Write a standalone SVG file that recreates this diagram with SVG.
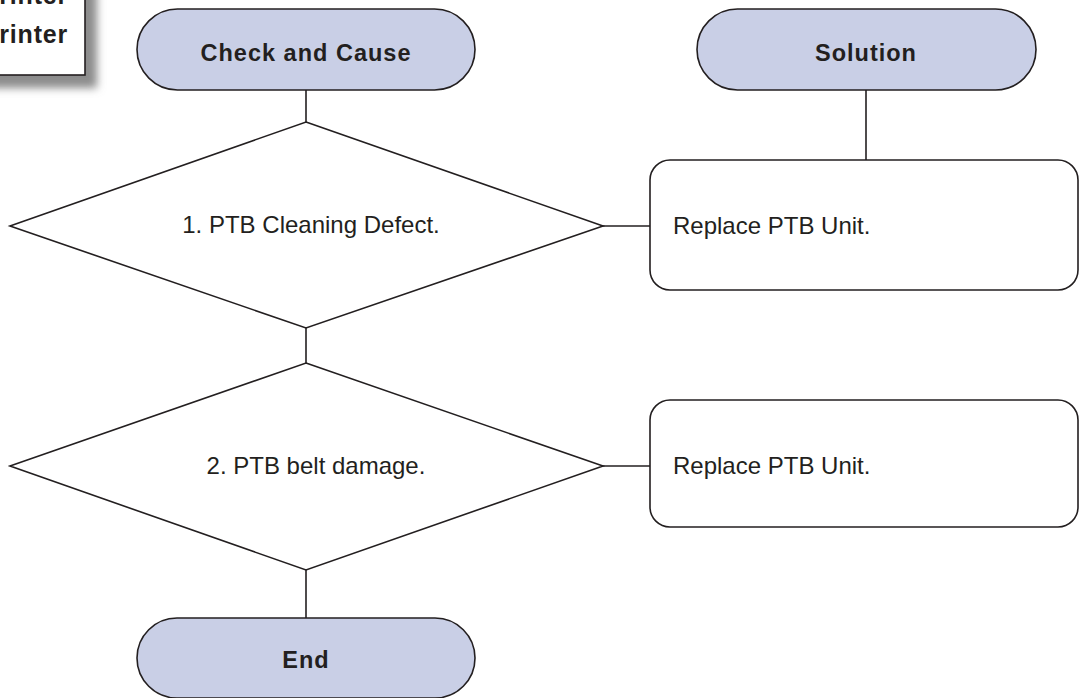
<svg xmlns="http://www.w3.org/2000/svg" width="1079" height="698" viewBox="0 0 1079 698">
<style>
.term{fill:#c9cfe6;stroke:#231f20;stroke-width:1.6}
.shape{fill:#ffffff;stroke:#231f20;stroke-width:1.6}
.conn{stroke:#231f20;stroke-width:1.6;fill:none}
.tb{font-family:"Liberation Sans",Arial,sans-serif;font-weight:bold;font-size:23.5px;fill:#231f20;letter-spacing:1px;text-anchor:middle}
.t{font-family:"Liberation Sans",Arial,sans-serif;font-size:24px;fill:#231f20}
</style>
<defs>
<filter id="sh" x="-30%" y="-30%" width="160%" height="160%"><feGaussianBlur stdDeviation="4.5"/></filter>
</defs>
<rect width="1079" height="698" fill="#ffffff"/>
<g id="header">
<rect x="-20" y="-20" width="117" height="108" fill="#8c8c8c" filter="url(#sh)"/>
<rect x="-5" y="-5" width="90" height="80" fill="#ffffff" stroke="#231f20" stroke-width="1.6"/>
<text x="68" y="4" font-family="'Liberation Sans',Arial,sans-serif" font-weight="bold" font-size="25" letter-spacing="0.8" fill="#231f20" text-anchor="end">Printer</text>
<text x="68" y="43" font-family="'Liberation Sans',Arial,sans-serif" font-weight="bold" font-size="25" letter-spacing="0.8" fill="#231f20" text-anchor="end">Printer</text>
</g>
<g id="connectors">
<line class="conn" x1="306" y1="90" x2="306" y2="122"/>
<line class="conn" x1="866" y1="90" x2="866" y2="160"/>
<line class="conn" x1="603" y1="226" x2="650" y2="226"/>
<line class="conn" x1="306" y1="328" x2="306" y2="363"/>
<line class="conn" x1="603" y1="466" x2="650" y2="466"/>
<line class="conn" x1="306" y1="570" x2="306" y2="618"/>
</g>
<g id="check-and-cause">
<rect class="term" x="137" y="9" width="338" height="81" rx="40.5"/>
<text class="tb" x="306" y="61">Check and Cause</text>
</g>
<g id="solution">
<rect class="term" x="697" y="9" width="339" height="81" rx="40.5"/>
<text class="tb" x="866" y="61">Solution</text>
</g>
<g id="check1">
<polygon class="shape" points="306,122 603,226 306,328 10,226"/>
<text class="t" x="311" y="233" text-anchor="middle">1. PTB Cleaning Defect.</text>
</g>
<g id="solution1">
<rect class="shape" x="650" y="160" width="428" height="130" rx="20"/>
<text class="t" x="673" y="234">Replace PTB Unit.</text>
</g>
<g id="check2">
<polygon class="shape" points="306,363 603,466 306,570 10,466"/>
<text class="t" x="316" y="474" text-anchor="middle">2. PTB belt damage.</text>
</g>
<g id="solution2">
<rect class="shape" x="650" y="400" width="428" height="127" rx="20"/>
<text class="t" x="673" y="474">Replace PTB Unit.</text>
</g>
<g id="end">
<rect class="term" x="137" y="618" width="338" height="80" rx="40"/>
<text class="tb" x="306" y="668">End</text>
</g>
</svg>
